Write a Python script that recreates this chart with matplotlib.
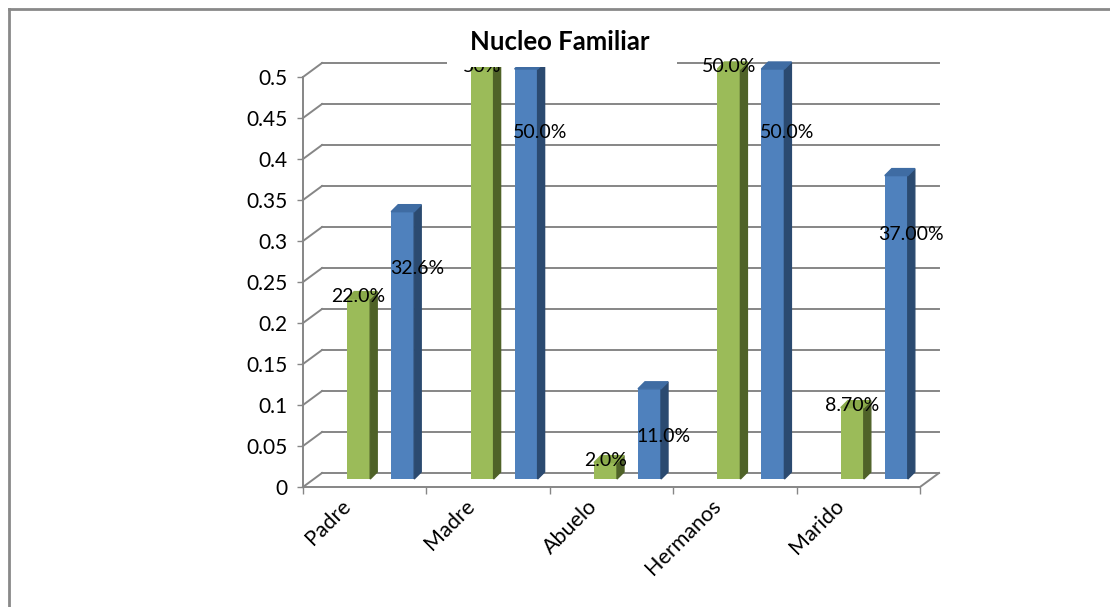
import matplotlib.pyplot as plt
from matplotlib.patches import Polygon, Rectangle
from matplotlib.lines import Line2D

# datos del grafico
categorias = ['Padre', 'Madre', 'Abuelo', 'Hermanos', 'Marido']
serie_verde = [0.22, 0.50, 0.02, 0.50, 0.087]
serie_azul = [0.326, 0.50, 0.11, 0.50, 0.37]
etiquetas_verde = ['22.0%', '50%', '2.0%', '50.0%', '8.70%']
etiquetas_azul = ['32.6%', '50.0%', '11.0%', '50.0%', '37.00%']
marcas_y = [0, 0.05, 0.1, 0.15, 0.2, 0.25, 0.3, 0.35, 0.4, 0.45, 0.5]
titulo = 'Nucleo Familiar'

plt.rcParams['font.family'] = ['Lato', 'DejaVu Sans']

W, H = 1110, 607
fig = plt.figure(figsize=(W / 100, H / 100), dpi=100)
# el plano frontal del "3D" de Excel
ax = fig.add_axes([303 / W, 1 - 487 / H, 617 / W, 410 / H])
n = len(categorias)
ax.set_xlim(-0.5, n - 0.5)
ax.set_ylim(0, 0.5)

# pixeles -> unidades de datos
px = n / 617
py = 0.5 / 410

gris = '#868686'
# pared del fondo (desplazada)
DX, DY = 19 * px, 14 * py
for y in marcas_y:
    ax.plot([-0.5 + DX, n - 0.5 + DX], [y + DY, y + DY], color=gris, lw=1.4, zorder=1, clip_on=False)
    ax.plot([-0.5, -0.5 + DX], [y, y + DY], color=gris, lw=1.4, zorder=1, clip_on=False)
ax.plot([n - 0.5, n - 0.5 + DX], [0, DY], color=gris, lw=1.4, zorder=1, clip_on=False)

# barras con caras laterales y superiores
base = 8 * py
shift = 16 * px
ancho = 23 * px
sx, sy = 7 * px, 7 * py
xs = range(n)
colores = [('#9BBB59', '#4F6228', '#8AAA4A'), ('#4F81BD', '#2B4A70', '#3F6CA3')]
grupos = []
for k, (vals, off) in enumerate([(serie_verde, -22 * px), (serie_azul, 22 * px)]):
    pos = [x + shift + off for x in xs]
    frente, lado, arriba = colores[k]
    bars = ax.bar(pos, vals, width=ancho, bottom=base, color=frente, zorder=3, clip_on=False)
    for b in bars:
        x0, x1 = b.get_x(), b.get_x() + b.get_width()
        y0, y1 = b.get_y(), b.get_y() + b.get_height()
        ax.add_patch(Polygon([(x1, y0), (x1 + sx, y0 + sy), (x1 + sx, y1 + sy), (x1, y1)],
                             closed=True, color=lado, zorder=3, clip_on=False))
        ax.add_patch(Polygon([(x0, y1), (x0 + sx, y1 + sy), (x1 + sx, y1 + sy), (x1, y1)],
                             closed=True, color=arriba, zorder=3, clip_on=False))
    grupos.append(bars)

# etiquetas de datos
for b, t in zip(grupos[0], etiquetas_verde):
    ax.text(b.get_x() + b.get_width() / 2, b.get_y() + b.get_height() + 2 * py, t,
            ha='center', va='center', fontsize=14, zorder=5, clip_on=False)
for b, t in zip(grupos[1], etiquetas_azul):
    ax.text(b.get_x() + b.get_width() + 3 * px, b.get_y() + 0.95 * b.get_height() - 0.053, t,
            ha='center', va='center', fontsize=14, zorder=5, clip_on=False)

# ejes
for s in ['top', 'right']:
    ax.spines[s].set_visible(False)
for s in ['left', 'bottom']:
    ax.spines[s].set_color(gris)
    ax.spines[s].set_linewidth(1.4)
ax.set_yticks(marcas_y)
ax.set_yticklabels([f'{v:g}' for v in marcas_y])
ax.tick_params(axis='y', direction='out', length=4.5, width=1, color=gris, pad=6.5, labelsize=15)
ax.set_xticks([x - 0.5 for x in range(n + 1)])
ax.set_xticklabels([])
ax.tick_params(axis='x', direction='out', length=4.8, width=1, color=gris)
for x, c in zip(xs, categorias):
    ax.text(x - 17 * px, -16 * py, c, rotation=45, rotation_mode='anchor',
            ha='right', va='center', fontsize=15.5, clip_on=False)

# titulo con su caja blanca que tapa la linea del fondo
fig.patches.append(Rectangle((447 / W, 1 - 67 / H), 230 / W, 45 / H, transform=fig.transFigure,
                             facecolor='white', edgecolor='none', zorder=6))
fig.text(560 / W, 1 - 42 / H, titulo, ha='center', va='center', fontsize=18.5,
         fontweight='bold', zorder=7)

# borde del area del grafico
fig.add_artist(Line2D([8.5 / W, 8.5 / W], [0, 1 - 8.5 / H], color='#898989', lw=2, transform=fig.transFigure))
fig.add_artist(Line2D([8.5 / W, 1], [1 - 8.5 / H, 1 - 8.5 / H], color='#898989', lw=2, transform=fig.transFigure))

fig.savefig('out.png', dpi=100)
